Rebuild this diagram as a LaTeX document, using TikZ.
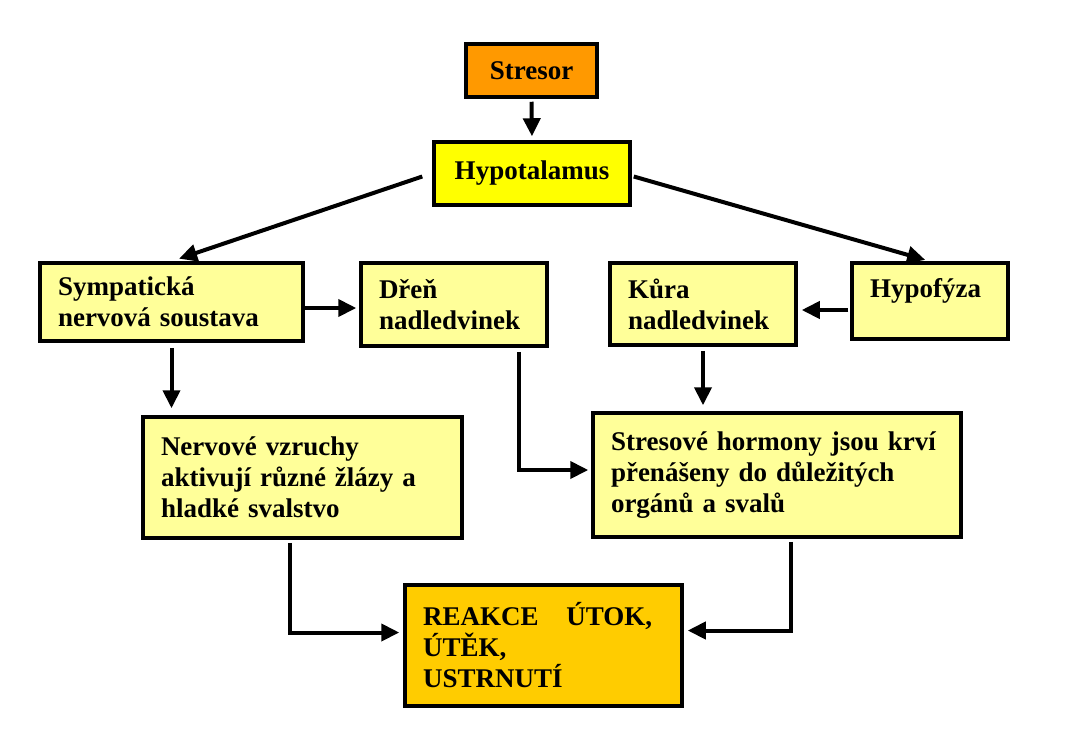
\documentclass[tikz,border=0pt]{standalone}
\usepackage{fontspec}
\setmainfont{Liberation Serif}
\usetikzlibrary{arrows.meta}
\definecolor{cOrange}{HTML}{FF9900}
\definecolor{cYellow}{HTML}{FFFF00}
\definecolor{cLight}{HTML}{FFFF99}
\definecolor{cGold}{HTML}{FFCC00}
\tikzset{
  box/.style={draw, line width=3.5pt, rectangle, align=left, inner xsep=18pt, inner ysep=4pt,
    font={\fontsize{27}{31}\selectfont\bfseries}},
  arr/.style={line width=4pt, -{Triangle[length=18pt,width=17pt]}}
}
\begin{document}
\begin{tikzpicture}[x=1pt,y=-1pt]
\useasboundingbox (0,0) rectangle (1078,748);
\node[box, fill=cOrange, align=center, minimum width=131pt, minimum height=53pt] (stresor) at (531.5,70.5) {Stresor};
\node[box, fill=cYellow, align=center, minimum width=196pt, minimum height=63pt] (hypo) at (532,173.5) {Hypotalamus};
\node[box, fill=cLight, text width=227pt, minimum width=263pt, minimum height=78pt] (symp) at (171.5,302) {Sympatická\\nervová soustava};
\node[box, fill=cLight, text width=150pt, minimum width=186pt, minimum height=83pt] (dren) at (454,304.5) {Dřeň\\nadledvinek};
\node[box, fill=cLight, text width=150pt, minimum width=186pt, minimum height=82pt] (kura) at (703,304) {Kůra\\nadledvinek};
\node[box, fill=cLight, text width=120pt, minimum width=156pt, minimum height=76pt] (hypof) at (930,301) {Hypofýza\\[-15pt]\strut};
\node[box, fill=cLight, text width=283pt, minimum width=319pt, minimum height=121pt] (nerv) at (302.5,477.5) {Nervové vzruchy\\aktivují různé žlázy a\\hladké svalstvo};
\node[box, fill=cLight, text width=332pt, minimum width=368pt, minimum height=124pt] (stres) at (777,475) {Stresové hormony jsou krví\\přenášeny do důležitých\\orgánů a svalů};
\node[box, fill=cGold, text width=241pt, minimum width=277pt, minimum height=121pt] (reakce) at (543.5,645.5) {REAKCE\hspace{0.7em} ÚTOK,\\ÚTĚK,\\USTRNUTÍ};

% Stresor -> Hypotalamus
\draw[arr, shorten <=3pt, shorten >=4pt] (stresor.south) -- (hypo.north);
% Hypotalamus -> Sympaticka / Hypofyza
\coordinate (hl) at ([xshift=-10pt,yshift=-3pt]hypo.west);
\coordinate (hr) at ([xshift=2pt,yshift=-3pt]hypo.east);
\draw[arr, shorten >=8pt] (hl) -- (symp.north);
\draw[arr, shorten >=5pt] (hr) -- (hypof.north);
% Sympaticka -> Dren
\coordinate (sd) at ([yshift=-6pt]symp.east);
\draw[arr, shorten >=3pt] (sd) -- (sd -| dren.west);
% Hypofyza -> Kura
\coordinate (hk) at ([xshift=-2pt,yshift=-9pt]hypof.west);
\draw[arr, shorten >=4pt] (hk) -- (hk -| kura.east);
% Sympaticka -> Nervove
\coordinate (sn) at ([yshift=-5pt]symp.south);
\draw[arr, shorten >=7pt] (sn) -- (sn |- nerv.north);
% Kura -> Stresove
\coordinate (ks) at ([yshift=-4pt]kura.south);
\draw[arr, shorten >=6pt] (ks) -- (ks |- stres.north);
% Dren -> Stresove
\coordinate (ds) at ([xshift=65pt,yshift=-4pt]dren.south);
\coordinate (dsm) at ([yshift=5pt]stres.west);
\draw[arr, shorten >=3pt] (ds) -- (ds |- dsm) -- (dsm);
% Nervove -> Reakce
\coordinate (nr) at ([xshift=-13pt,yshift=-3pt]nerv.south);
\coordinate (nrm) at ([yshift=13pt]reakce.west);
\draw[arr, shorten >=4pt] (nr) -- (nr |- nrm) -- (nrm);
% Stresove -> Reakce
\coordinate (sr) at ([xshift=14pt,yshift=-3pt]stres.south);
\coordinate (srm) at ([yshift=15pt]reakce.east);
\draw[arr, shorten >=4pt] (sr) -- (sr |- srm) -- (srm);
\end{tikzpicture}
\end{document}
